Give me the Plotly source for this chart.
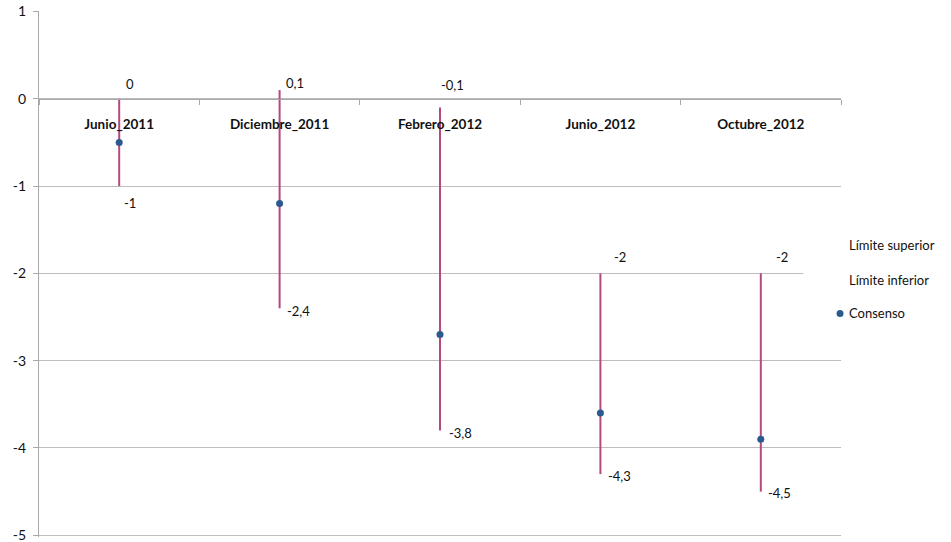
import plotly.graph_objects as go

# Survey periods and the forecast range / consensus for each
periods = ["Junio_2011", "Diciembre_2011", "Febrero_2012", "Junio_2012", "Octubre_2012"]
upper_limit = [0, 0.1, -0.1, -2, -2]
lower_limit = [-1, -2.4, -3.8, -4.3, -4.5]
consensus = [-0.5, -1.2, -2.7, -3.6, -3.9]

y_ticks = [1, 0, -1, -2, -3, -4, -5]
legend_names = ["Límite superior", "Límite inferior", "Consenso"]

# Pixel nudges for the value labels (x, y)
upper_shift = [(11, 15), (15, 7), (12, 23), (20, 16), (21, 16)]
lower_shift = [(11, -17), (19, -3), (20, -2), (19, -2), (19, -1)]

RANGE_COLOR = "#B4487F"
DOT_COLOR = "#2B5B8E"
GRID = "#BDBDBD"
AXIS = "#A8A8A8"
FONT = "Lato"

Y_MIN, Y_MAX = -5.02, 1.006


def fmt(v):
    return f"{v:g}".replace(".", ",")


# High-low segments, one per period, separated by gaps
seg_x, seg_y = [], []
for p, hi, lo in zip(periods, upper_limit, lower_limit):
    seg_x += [p, p, None]
    seg_y += [hi, lo, None]

fig = go.Figure()
fig.add_trace(go.Scatter(
    x=seg_x, y=seg_y, mode="lines",
    line=dict(color=RANGE_COLOR, width=2),
    hoverinfo="skip", showlegend=False,
))
fig.add_trace(go.Scatter(
    x=periods, y=consensus, mode="markers", name=legend_names[2],
    marker=dict(color=DOT_COLOR, size=7),
    showlegend=False,
))

annotations = []
for p, v, (dx, dy) in zip(periods, upper_limit, upper_shift):
    annotations.append(dict(x=p, y=v, text=fmt(v), showarrow=False,
                            xshift=dx, yshift=dy,
                            font=dict(family=FONT, size=13, color="#111")))
for p, v, (dx, dy) in zip(periods, lower_limit, lower_shift):
    annotations.append(dict(x=p, y=v, text=fmt(v), showarrow=False,
                            xshift=dx, yshift=dy,
                            font=dict(family=FONT, size=13, color="#111")))

# x-axis line sits at y = 0
x_axis_pos = (0 - Y_MIN) / (Y_MAX - Y_MIN)

# Legend drawn on a white panel at the right
legend_y = [0.556, 0.489, 0.425]
for name, ly in zip(legend_names, legend_y):
    annotations.append(dict(xref="paper", yref="paper", x=1.0072, y=ly,
                            xanchor="left", yanchor="middle", text=name,
                            showarrow=False,
                            font=dict(family=FONT, size=13, color="#111")))

shapes = [
    dict(type="rect", xref="paper", yref="paper", x0=0.953, x1=1.14,
         y0=0.38, y1=0.585, fillcolor="white", line=dict(width=0),
         layer="above"),
    dict(type="circle", xref="paper", yref="paper", xsizemode="pixel",
         ysizemode="pixel", xanchor=0.9988, yanchor=legend_y[2],
         x0=-3.5, x1=3.5, y0=-3.5, y1=3.5,
         fillcolor=DOT_COLOR, line=dict(width=0), layer="above"),
]

fig.update_layout(
    width=951, height=542,
    margin=dict(l=39, r=110, t=11, b=5, autoexpand=False),
    paper_bgcolor="white", plot_bgcolor="white",
    font=dict(family=FONT, size=13, color="#111"),
    showlegend=False,
    annotations=annotations, shapes=shapes,
    xaxis=dict(
        type="category", categoryorder="array", categoryarray=periods,
        range=[-0.5, 4.5], anchor="free", position=x_axis_pos,
        automargin=False,
        showgrid=False, showline=True, linecolor=AXIS, linewidth=1,
        ticks="outside", tickson="boundaries", ticklen=5, tickcolor=AXIS,
        tickfont=dict(family=FONT, size=13.5, color="#111", weight="bold"),
        ticklabelstandoff=13,
    ),
    yaxis=dict(
        range=[Y_MIN, Y_MAX], tickmode="array", tickvals=y_ticks,
        ticktext=[str(t) for t in y_ticks], automargin=False,
        ticklabeloverflow="allow",
        showgrid=True, gridcolor=GRID, gridwidth=1, zeroline=False,
        showline=True, linecolor=AXIS, linewidth=1,
        ticks="outside", ticklen=5, tickcolor=AXIS,
        tickfont=dict(family=FONT, size=14, color="#111"),
        ticklabelstandoff=4,
    ),
)

fig.write_html("out.html")
